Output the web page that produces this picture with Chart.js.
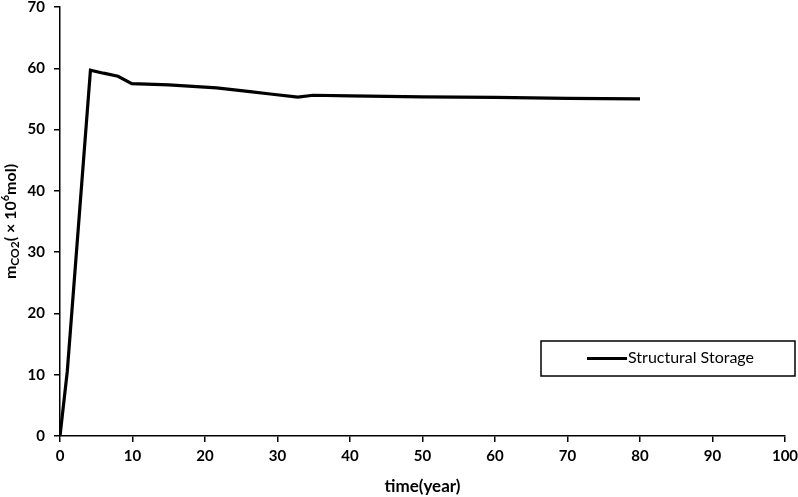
<!DOCTYPE html>
<html>
<head>
<meta charset="utf-8">
<script src="https://cdn.jsdelivr.net/npm/chart.js@4/dist/chart.umd.min.js"></script>
<style>
html,body{margin:0;padding:0;background:#fff;}
#wrap{width:798px;height:497px;}
</style>
</head>
<body>
<div id="wrap"><canvas id="c" width="798" height="497"></canvas></div>
<script>
const years = [0, 1, 4.2, 6, 8, 9.9, 15, 21.6, 26.2, 29, 32.8, 34.9, 40, 50, 60, 70, 80];
const structuralStorage = [0, 10.5, 59.7, 59.2, 58.7, 57.5, 57.3, 56.8, 56.2, 55.8, 55.3, 55.6, 55.5, 55.35, 55.25, 55.1, 55.0];
const xTicks = [0, 10, 20, 30, 40, 50, 60, 70, 80, 90, 100];
const yTicks = [0, 10, 20, 30, 40, 50, 60, 70];
const seriesName = 'Structural Storage';
const xTitle = 'time(year)';

const FONT = 'Lato, "Open Sans", sans-serif';

const yTitlePlugin = {
  id: 'yTitle',
  afterDraw(chart) {
    const ctx = chart.ctx;
    const area = chart.chartArea;
    ctx.save();
    ctx.translate(16, (area.top + area.bottom) / 2);
    ctx.rotate(-Math.PI / 2);
    ctx.fillStyle = '#000';
    ctx.textBaseline = 'alphabetic';
    const parts = [
      {t: 'm', f: 'bold 16px ' + FONT, dy: 0},
      {t: 'CO2', f: 'bold 12px ' + FONT, dy: 3},
      {t: '( \u00D7 10', f: 'bold 16px ' + FONT, dy: 0},
      {t: '6', f: 'bold 11px ' + FONT, dy: -7},
      {t: 'mol)', f: 'bold 16px ' + FONT, dy: 0}
    ];
    let total = 0;
    parts.forEach(p => { ctx.font = p.f; p.w = ctx.measureText(p.t).width; total += p.w; });
    let x = -total / 2;
    parts.forEach(p => { ctx.font = p.f; ctx.fillText(p.t, x, p.dy); x += p.w; });
    ctx.restore();
  }
};

const legendPlugin = {
  id: 'boxLegend',
  afterDraw(chart) {
    const ctx = chart.ctx;
    const ds = chart.data.datasets[0];
    ctx.save();
    ctx.strokeStyle = '#000';
    ctx.lineWidth = 1.5;
    ctx.strokeRect(541, 341, 254, 35);
    ctx.strokeStyle = ds.borderColor;
    ctx.lineWidth = 3;
    ctx.beginPath();
    ctx.moveTo(587, 358.5);
    ctx.lineTo(627, 358.5);
    ctx.stroke();
    ctx.fillStyle = '#000';
    ctx.font = '16px ' + FONT;
    ctx.textBaseline = 'middle';
    ctx.fillText(ds.label, 628, 358);
    ctx.restore();
  }
};

new Chart(document.getElementById('c'), {
  type: 'line',
  data: {
    datasets: [{
      label: seriesName,
      data: years.map((x, i) => ({x: x, y: structuralStorage[i]})),
      borderColor: '#000',
      borderWidth: 3.2,
      pointRadius: 0,
      tension: 0,
      fill: false
    }]
  },
  options: {
    responsive: false,
    animation: false,
    devicePixelRatio: 1,
    layout: {padding: {top: 7, right: 13, left: 0, bottom: 0}},
    plugins: {legend: {display: false}, tooltip: {enabled: false}},
    scales: {
      x: {
        type: 'linear',
        min: 0, max: 100,
        afterFit(s) { s.height = 61; s.paddingLeft = 0; s.paddingRight = 0; },
        afterBuildTicks(s) { s.ticks = xTicks.map(v => ({value: v})); },
        ticks: {color: '#000', font: {family: FONT, size: 15, weight: 'bold'}, padding: 5, maxRotation: 0},
        grid: {drawOnChartArea: false, drawTicks: true, tickLength: 6, color: '#000', lineWidth: 1.5},
        border: {color: '#000', width: 1.5},
        title: {display: true, text: xTitle, color: '#000', font: {family: FONT, size: 17, weight: 'bold'}, padding: {top: 6, bottom: 0}}
      },
      y: {
        type: 'linear',
        min: 0, max: 70,
        afterFit(s) { s.width = 60; s.paddingTop = 0; s.paddingBottom = 0; },
        afterBuildTicks(s) { s.ticks = yTicks.map(v => ({value: v})); },
        ticks: {color: '#000', font: {family: FONT, size: 15, weight: 'bold'}, padding: 9},
        grid: {drawOnChartArea: false, drawTicks: true, tickLength: 6, color: '#000', lineWidth: 1.5},
        border: {color: '#000', width: 1.5}
      }
    }
  },
  plugins: [yTitlePlugin, legendPlugin]
});
</script>
</body>
</html>
